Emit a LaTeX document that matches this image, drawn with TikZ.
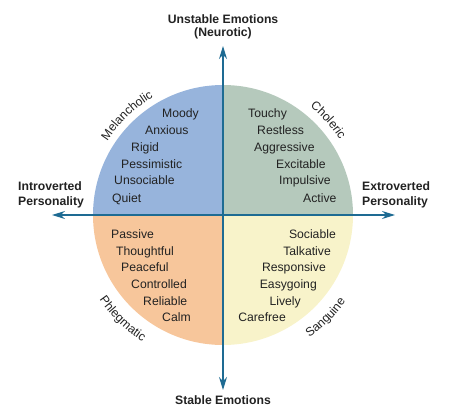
\documentclass[tikz,border=0pt]{standalone}
\usepackage{fontspec}
\setmainfont{Liberation Sans}
\usetikzlibrary{arrows.meta,decorations.text}
\definecolor{melblue}{HTML}{97B4DC}
\definecolor{cholgreen}{HTML}{B5C9BC}
\definecolor{phlorange}{HTML}{F7C69B}
\definecolor{sanyellow}{HTML}{F8F3CA}
\definecolor{axisblue}{HTML}{1E6B93}
\definecolor{txt}{HTML}{222222}
\begin{document}
\begin{tikzpicture}[x=1pt,y=1pt,
  word/.style={inner sep=0pt, font=\fontsize{12.2}{14}\selectfont, text=txt},
  lw/.style={word, anchor=base west},
  rw/.style={word, anchor=base east},
  head/.style={inner sep=0pt, font=\fontsize{12.2}{14}\selectfont\bfseries, text=txt},
  axisline/.style={draw=axisblue, line width=1.4pt,
    {Stealth[length=13pt,width=8pt]}-{Stealth[length=13pt,width=8pt]}},
  arclabel/.style={decorate, decoration={text along path, text align=center, text color=txt}}
]
\useasboundingbox (0,0) rectangle (452,-414);
\coordinate (C) at (223,-215);
% quadrants
\fill[melblue] (C) -- ++(0,130) arc (90:180:130) -- cycle;
\fill[cholgreen] (C) -- ++(130,0) arc (0:90:130) -- cycle;
\fill[phlorange] (C) -- ++(-130,0) arc (180:270:130) -- cycle;
\fill[sanyellow] (C) -- ++(0,-130) arc (270:360:130) -- cycle;
% axes
\coordinate (top) at (223,-46);
\coordinate (bottom) at (223,-390);
\coordinate (left) at (52,-215);
\coordinate (right) at (395,-215);
\draw[axisline] (bottom) -- (top);
\draw[axisline] (left) -- (right);
% curved labels
\path[arclabel, decoration={text={|\fontsize{12.2}{14}\selectfont|Melancholic}}]
  ([shift={(164:137)}]C) arc (164:104:137);
\path[arclabel, decoration={text={|\fontsize{12.2}{14}\selectfont|Choleric}}]
  ([shift={(72:139)}]C) arc (72:12:139);
\path[arclabel, decoration={text={|\fontsize{12.2}{14}\selectfont|Phlegmatic}}]
  ([shift={(196:150)}]C) arc (196:256:150);
\path[arclabel, decoration={text={|\fontsize{12.2}{14}\selectfont|Sanguine}}]
  ([shift={(-75:150)}]C) arc (-75:-15:150);
% headers
\node[head, anchor=base] (unst) at (223,-24) {Unstable Emotions};
\node[head, anchor=base] (neur) at (223,-37) {(Neurotic)};
\node[head, anchor=base] (stab) at (223,-404) {Stable Emotions};
\node[head, anchor=base west] (intro) at (18,-190) {Introverted};
\node[head, anchor=base west] (introp) at (18,-205) {Personality};
\node[head, anchor=base west] (extro) at (362,-190) {Extroverted};
\node[head, anchor=base west] (extrop) at (362,-205) {Personality};
% melancholic
\node[lw] (m1) at (162,-118) {Moody};
\node[lw] (m2) at (145,-135) {Anxious};
\node[lw] (m3) at (131,-152) {Rigid};
\node[lw] (m4) at (121,-168) {Pessimistic};
\node[lw] (m5) at (114,-185) {Unsociable};
\node[lw] (m6) at (112,-202) {Quiet};
% choleric
\node[lw] (c1) at (248,-118) {Touchy};
\node[lw] (c2) at (257,-135) {Restless};
\node[lw] (c3) at (254,-152) {Aggressive};
\node[lw] (c4) at (276,-168) {Excitable};
\node[lw] (c5) at (279,-185) {Impulsive};
\node[lw] (c6) at (303,-202) {Active};
% phlegmatic
\node[lw] (p1) at (111,-238) {Passive};
\node[lw] (p2) at (116,-255) {Thoughtful};
\node[lw] (p3) at (121,-271) {Peaceful};
\node[lw] (p4) at (131,-288) {Controlled};
\node[lw] (p5) at (143,-305) {Reliable};
\node[lw] (p6) at (162,-321) {Calm};
% sanguine
\node[rw] (s1) at (336,-238) {Sociable};
\node[rw] (s2) at (331,-255) {Talkative};
\node[rw] (s3) at (326,-271) {Responsive};
\node[rw] (s4) at (317,-288) {Easygoing};
\node[rw] (s5) at (301,-305) {Lively};
\node[rw] (s6) at (286,-321) {Carefree};
\end{tikzpicture}
\end{document}
